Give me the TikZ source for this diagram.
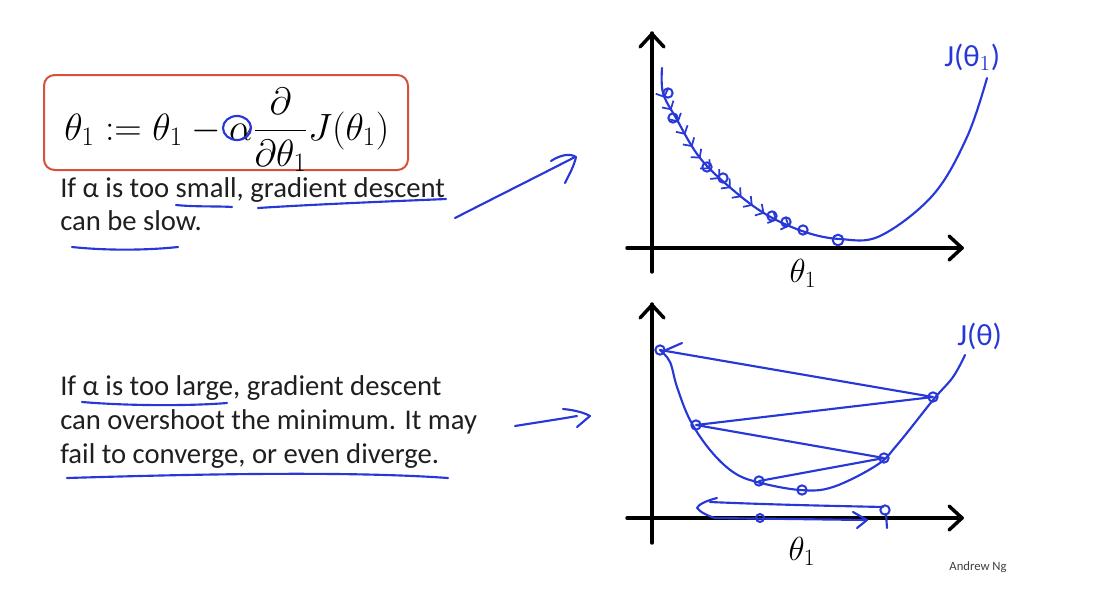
\RequirePackage{fix-cm}
\documentclass[tikz,border=0pt]{standalone}
\usepackage{fontspec}
\setmainfont{Carlito}
\usetikzlibrary{arrows.meta,decorations.markings}
\definecolor{pen}{RGB}{40,55,215}
\definecolor{boxred}{RGB}{215,80,60}
\begin{document}
\begin{tikzpicture}[x=0.75pt,y=-0.75pt, line cap=round, line join=round,
  ink/.style={draw=pen, line width=1.6pt},
  axisline/.style={draw=black, line width=2.6pt},
  body/.style={anchor=base west, font=\fontsize{21.5}{26}\selectfont, text=black!88, inner sep=0pt},
  mathlbl/.style={font=\fontsize{25}{30}\selectfont, inner sep=0pt},
  hand/.style={text=pen, font=\fontsize{23}{26}\selectfont, inner sep=0pt, anchor=base west},
  pt/.style={ink, line width=1.5pt}]
\useasboundingbox (0,0) rectangle (1094,589);

% ---------- formula box ----------
\draw[boxred, line width=1.5pt, rounded corners=8pt] (44,75) rectangle (408,170);
\node[anchor=base west, inner sep=0pt, font=\fontsize{28.5}{34}\selectfont] (eq) at (64,140)
  {$\displaystyle \theta_1 := \theta_1 - \alpha\frac{\partial}{\partial\theta_1}J(\theta_1)$};
\draw[ink] (237,128) ellipse [x radius=14, y radius=12];

% ---------- text block 1 ----------
\node[body] (s1) at (60,197) {If α is too small, gradient descent};
\node[body] (s2) at (60,230) {can be slow.};
\draw[ink] (176,205) .. controls (195,207) and (218,206) .. (232,207);
\draw[ink] (258,208) .. controls (320,204) and (400,201) .. (446,199);
\draw[ink] (72,247) .. controls (110,251) and (150,250) .. (178,247);

% ---------- text block 2 ----------
\node[body] (l1) at (60,395) {If α is too large, gradient descent};
\node[body] (l2) at (60,429) {can overshoot the minimum. It may};
\node[body] (l3) at (60,463) {fail to converge, or even diverge.};
\draw[ink] (82,402) .. controls (130,406) and (190,406) .. (227,403);
\draw[ink] (67,478) .. controls (200,474) and (350,471) .. (448,478);

% ---------- hand arrows ----------
\draw[ink] (455,218) .. controls (500,195) and (540,175) .. (575,157);
\draw[ink] (551,161) .. controls (560,155) and (570,153) .. (576,157) .. controls (574,166) and (569,175) .. (565,183);
\draw[ink] (515,426) .. controls (540,422) and (560,419) .. (577,416);
\draw[ink] (563,409) .. controls (575,410) and (585,413) .. (590,416) -- (577,427);

% ---------- top plot ----------
\draw[axisline] (652,272) -- (652,33);
\draw[axisline] (640,47) -- (652,34) -- (664,47);
\draw[axisline] (627,248) -- (962,248);
\draw[axisline] (949,236) -- (962,248) -- (949,260);
\node[mathlbl] (xa) at (803,273) {$\theta_1$};
\draw[ink, postaction={decorate}, decoration={markings,
   mark=between positions 0.06 and 0.44 step 0.028 with {\arrow[pen, line width=1.3pt]{Straight Barb[length=4.5pt,width=10pt]}}}]
  plot[smooth, tension=0.6] coordinates {(662,68) (663,93) (676,118) (700,158) (733,190) (767,215) (805,232) (840,239) (880,236) (933,195) (967,137) (987,78)};
\foreach \p in {(668,93),(673,118),(707,167),(723,178),(772,216),(786,222),(803,230)}
  \draw[pt] \p circle [radius=3.5pt];
\draw[pt] (838,240) circle [radius=4pt];
\node[hand] (ja) at (944,66) {J(θ$_1$)};

% ---------- bottom plot ----------
\draw[axisline] (652,543) -- (652,304);
\draw[axisline] (640,318) -- (652,305) -- (664,318);
\draw[axisline] (627,518) -- (962,518);
\draw[axisline] (949,506) -- (962,518) -- (949,530);
\node[mathlbl] (xb) at (802,551) {$\theta_1$};
\draw[ink] plot[smooth, tension=0.6] coordinates {(660,350) (670,362) (677,387) (690,420) (710,450) (733,472) (757,482) (800,490) (833,487) (877,465) (897,445) (933,400) (953,377) (965,355)};
\coordinate (P0) at (660,350);
\coordinate (P1) at (933,397);
\coordinate (P2) at (696,425);
\coordinate (P3) at (884,458);
\coordinate (P4) at (759,481);
\coordinate (P5) at (802,490);
\draw[ink] (P0) -- (P1) -- (P2) -- (P3) -- (P4);
\draw[ink] (666,350) -- (682,343);
\foreach \c in {P0,P1,P2,P3,P4,P5}
  \draw[pt] (\c) circle [radius=3.5pt];
\node[hand] (jb) at (957,345) {J(θ)};
% oscillation arrow on the axis
\draw[ink] (717,498) .. controls (705,501) and (698,505) .. (697,508) .. controls (700,512) and (708,516) .. (715,518);
\draw[ink] (710,502) .. controls (780,505) and (840,506) .. (883,507);
\draw[ink] (715,518) -- (866,520);
\draw[ink] (853,512) -- (867,520) -- (857,528);
\draw[pt] (760,518) circle [radius=3pt];
\draw[pt] (885,510) circle [radius=3.5pt];
\draw[ink] (886,514) -- (887,528);

\node[font=\fontsize{9.5}{11}\selectfont, text=black!75] (an) at (978,567) {Andrew Ng};
\end{tikzpicture}
\end{document}
